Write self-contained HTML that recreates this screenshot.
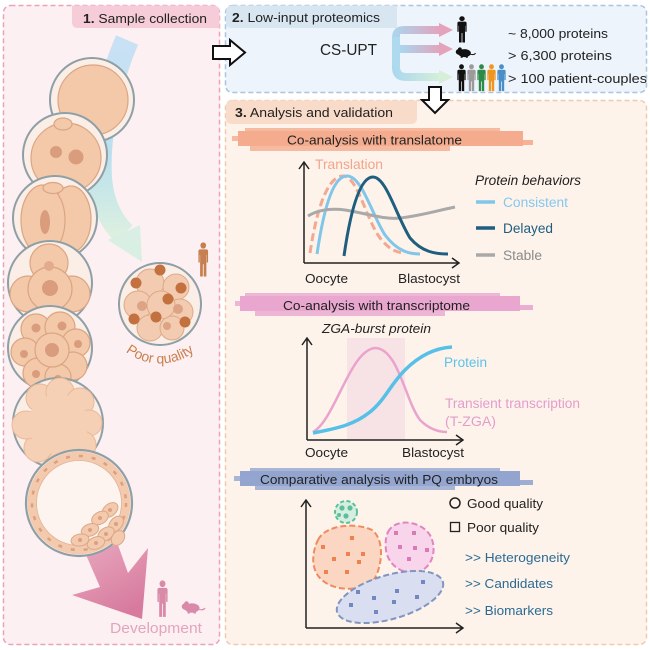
<!DOCTYPE html>
<html><head><meta charset="utf-8"><style>
html,body{margin:0;padding:0;background:#fff;}
svg{display:block;font-family:"Liberation Sans",Arial,sans-serif;}
</style></head><body>
<svg width="650" height="650" viewBox="0 0 650 650" xmlns="http://www.w3.org/2000/svg">
<defs>
<linearGradient id="gBlueArr" x1="0" y1="0" x2="0" y2="1"><stop offset="0" stop-color="#c9e1f4"/><stop offset="0.6" stop-color="#b9e0ee"/><stop offset="1" stop-color="#dcf0e0"/></linearGradient>
<linearGradient id="gPinkArr" x1="0" y1="0" x2="0.6" y2="1"><stop offset="0" stop-color="#e9a9c0"/><stop offset="1" stop-color="#d77a9d"/></linearGradient>
<linearGradient id="gE1" x1="0" y1="0" x2="1" y2="0"><stop offset="0" stop-color="#a9d7ef"/><stop offset="1" stop-color="#e4a2bb"/></linearGradient>
<linearGradient id="gE3" x1="0" y1="0" x2="1" y2="0"><stop offset="0" stop-color="#a9d7ef"/><stop offset="1" stop-color="#d6efd8"/></linearGradient>
<g id="person"><circle cx="5" cy="3" r="2.7"/><path d="M2,6.3 H8 Q9.6,6.3 9.6,8 V17.5 H8.3 V11 H8 V29.5 H5.4 V19 H4.6 V29.5 H2 V11 H1.7 V17.5 H0.4 V8 Q0.4,6.3 2,6.3 Z"/></g>
<g id="mouse"><ellipse cx="10" cy="6" rx="7" ry="4.2"/><ellipse cx="4" cy="4.5" rx="3.8" ry="3"/><circle cx="4.5" cy="1.6" r="1.8"/><path d="M16,7 Q21,9 23,6" fill="none" stroke-width="1.2"/><rect x="6" y="9" width="1.4" height="2"/><rect x="12" y="9" width="1.4" height="2"/></g>
<path id="pqArc" d="M105,318 A56,56 0 0 0 215,318"/>
</defs>

<!-- ===== Panel 1 ===== -->
<rect x="3.5" y="5.5" width="216" height="639" rx="7" fill="#fcf0f3" stroke="#eba3b8" stroke-width="1.5" stroke-dasharray="5,3"/>
<path d="M72,5.5 H213 Q219.5,5.5 219.5,12 V28 H78 Q72,28 72,22 Z" fill="#f6ccd8"/>
<text x="83" y="23" font-size="13" fill="#222" textLength="124" lengthAdjust="spacingAndGlyphs"><tspan font-weight="bold">1.</tspan> Sample collection</text>

<!-- blue arrow -->
<path d="M127,40 C112,75 97,130 100,178 C102,205 112,222 124,234" fill="none" stroke="url(#gBlueArr)" stroke-width="24"/>
<polygon points="108,240 140,225 142,262" fill="#d9efe3"/>

<!-- pink arrow -->
<polygon points="83,548 100,587 72,595 142,619 148,548 128,573 118,545" fill="url(#gPinkArr)"/>

<!-- embryo 1 oocyte -->
<circle cx="92" cy="100" r="42" fill="#fbeee7" stroke="#8f9fa6" stroke-width="2"/>
<circle cx="93" cy="100" r="35" fill="#f3c9a9" stroke="#dba582" stroke-width="1.2"/>

<!-- embryo 2 zygote -->
<circle cx="65" cy="155" r="42" fill="#fbeee7" stroke="#8f9fa6" stroke-width="2"/>
<circle cx="66" cy="158" r="35" fill="#f3c9a9" stroke="#dba582" stroke-width="1.2"/>
<ellipse cx="63" cy="124" rx="9" ry="6" fill="#f3c9a9" stroke="#dba582" stroke-width="1.2"/>
<circle cx="56" cy="152" r="6" fill="#d99d7e"/>
<circle cx="76" cy="157" r="7.5" fill="#d99d7e"/>

<!-- embryo 3 two-cell -->
<circle cx="55" cy="218" r="42" fill="#fbeee7" stroke="#8f9fa6" stroke-width="2"/>
<ellipse cx="71" cy="219" rx="20" ry="33" fill="#f3c9a9" stroke="#dba582" stroke-width="1.2"/>
<ellipse cx="43" cy="220" rx="22" ry="35" fill="#f3c9a9" stroke="#dba582" stroke-width="1.2"/>
<ellipse cx="53" cy="188" rx="10" ry="5.5" fill="#f3c9a9" stroke="#dba582" stroke-width="1.2"/>
<ellipse cx="45" cy="222" rx="5" ry="12" fill="#d99d7e"/>

<!-- embryo 4 four-cell -->
<circle cx="50" cy="283" r="42" fill="#fbeee7" stroke="#8f9fa6" stroke-width="2"/>
<circle cx="49" cy="263" r="19" fill="#f3c9a9" stroke="#dba582" stroke-width="1.2"/>
<circle cx="28" cy="294" r="18" fill="#f3c9a9" stroke="#dba582" stroke-width="1.2"/>
<circle cx="72" cy="294" r="18" fill="#f3c9a9" stroke="#dba582" stroke-width="1.2"/>
<circle cx="50" cy="289" r="22" fill="#f3c9a9" stroke="#dba582" stroke-width="1.2"/>
<circle cx="50" cy="288" r="8" fill="#d99d7e"/>
<circle cx="49" cy="266" r="5" fill="#e2ab8e"/>

<!-- embryo 5 eight-cell -->
<circle cx="50" cy="348" r="42" fill="#fbeee7" stroke="#8f9fa6" stroke-width="2"/>
<g fill="#f3c9a9" stroke="#dba582" stroke-width="1.2">
<circle cx="36" cy="329" r="15"/><circle cx="60" cy="327" r="15"/><circle cx="76" cy="343" r="14"/>
<circle cx="25" cy="352" r="14"/><circle cx="73" cy="366" r="14"/><circle cx="38" cy="373" r="15"/>
<circle cx="58" cy="377" r="13"/><circle cx="52" cy="350" r="17"/>
</g>
<g fill="#d99d7e"><circle cx="36" cy="328" r="4.5"/><circle cx="62" cy="326" r="4.5"/><circle cx="78" cy="344" r="4"/><circle cx="24" cy="354" r="4"/><circle cx="36" cy="374" r="4"/><circle cx="52" cy="350" r="7"/><circle cx="58" cy="379" r="4"/></g>

<!-- embryo 6 morula -->
<circle cx="58" cy="423" r="45" fill="#fbeee7" stroke="#8f9fa6" stroke-width="2"/>
<g fill="#f5d0b4" stroke="#e9b999" stroke-width="1">
<circle cx="40" cy="398" r="14"/><circle cx="60" cy="392" r="14"/><circle cx="80" cy="402" r="14"/>
<circle cx="89" cy="423" r="13"/><circle cx="82" cy="445" r="14"/><circle cx="60" cy="455" r="14"/>
<circle cx="38" cy="448" r="14"/><circle cx="26" cy="425" r="14"/>
</g>
<circle cx="58" cy="424" r="30" fill="#f5d0b4"/>

<!-- embryo 7 blastocyst -->
<circle cx="79" cy="503" r="53" fill="#fdf4ef" stroke="#8f9fa6" stroke-width="2.2"/>
<circle cx="79" cy="503" r="47" fill="none" stroke="#f3caad" stroke-width="9"/>
<circle cx="79" cy="503" r="42.5" fill="none" stroke="#e0b496" stroke-width="0.8"/>
<circle cx="79" cy="503" r="47" fill="none" stroke="#dca080" stroke-width="2.5" stroke-dasharray="4,9"/>
<g fill="#f3caad" stroke="#dca887" stroke-width="1">
<ellipse cx="110" cy="510" rx="9" ry="6" transform="rotate(-40 110 510)"/>
<ellipse cx="100" cy="518" rx="9" ry="6" transform="rotate(-30 100 518)"/>
<ellipse cx="116" cy="524" rx="9" ry="6" transform="rotate(-50 116 524)"/>
<ellipse cx="90" cy="530" rx="9" ry="6" transform="rotate(-20 90 530)"/>
<ellipse cx="106" cy="534" rx="9" ry="6" transform="rotate(-35 106 534)"/>
<ellipse cx="80" cy="540" rx="9" ry="6" transform="rotate(-10 80 540)"/>
<ellipse cx="96" cy="543" rx="9" ry="6" transform="rotate(-20 96 543)"/>
<ellipse cx="118" cy="538" rx="8" ry="6" transform="rotate(-55 118 538)"/>
</g>
<g fill="#dca080"><circle cx="110" cy="510" r="2"/><circle cx="100" cy="518" r="2"/><circle cx="116" cy="524" r="2"/><circle cx="90" cy="530" r="2"/><circle cx="106" cy="534" r="2"/><circle cx="80" cy="540" r="2"/><circle cx="96" cy="543" r="2"/></g>

<!-- PQ embryo -->
<circle cx="160" cy="304" r="41" fill="#fbeee7" stroke="#8f9fa6" stroke-width="2"/>
<g fill="#f3cbb0" stroke="#dcaa8a" stroke-width="1">
<circle cx="150" cy="283" r="14"/><circle cx="176" cy="287" r="13"/><circle cx="138" cy="305" r="14"/>
<circle cx="180" cy="312" r="13"/><circle cx="150" cy="328" r="13"/><circle cx="172" cy="328" r="12"/>
<circle cx="161" cy="305" r="14"/>
</g>
<g fill="#dda385"><circle cx="142" cy="306" r="5"/><circle cx="178" cy="309" r="5"/><circle cx="167" cy="326" r="4"/></g>
<g fill="#c2713f">
<circle cx="160" cy="270" r="5.5"/><circle cx="136" cy="283" r="5.5"/><circle cx="181" cy="288" r="5.5"/>
<circle cx="168" cy="299" r="5.5"/><circle cx="134" cy="319" r="5.5"/><circle cx="156" cy="317" r="5.5"/><circle cx="185" cy="322" r="5.5"/>
</g>
<text font-size="14" fill="#c9804e"><textPath href="#pqArc" startOffset="50%" text-anchor="middle">Poor quality</textPath></text>
<use href="#person" transform="translate(198,242) scale(1.05,1.17)" fill="#c6804f"/>

<!-- development icons -->
<use href="#person" transform="translate(157,580) scale(1.1,1.25)" fill="#d98aa8"/>
<use href="#mouse" transform="translate(182,602) scale(1)" fill="#d98aa8" stroke="#d98aa8"/>
<text x="110" y="633" font-size="15" fill="#e3a4bd" textLength="92" lengthAdjust="spacingAndGlyphs">Development</text>

<!-- ===== Panel 2 ===== -->
<rect x="225.5" y="5.5" width="421" height="87" rx="7" fill="#eef4fb" stroke="#abc5de" stroke-width="1.5" stroke-dasharray="5,3"/>
<path d="M226,12 Q226,5.5 232,5.5 H397 V28 H232 Q226,28 226,22 Z" fill="#d8e6f2"/>
<text x="232" y="22" font-size="13" fill="#222" textLength="148" lengthAdjust="spacingAndGlyphs"><tspan font-weight="bold">2.</tspan> Low-input proteomics</text>
<text x="320" y="55" font-size="16" fill="#222" textLength="57" lengthAdjust="spacingAndGlyphs">CS-UPT</text>

<!-- E arrows -->
<path d="M392,38 Q392,26 404,26 H441 V34 H400 V38 Z" fill="url(#gE1)"/>
<rect x="392" y="37" width="8" height="30" fill="#aed9ef"/>
<rect x="400" y="45" width="41" height="8" fill="url(#gE1)"/>
<path d="M392,66 V67 Q392,81 406,81 H441 V73 H406 Q400,73 400,67 V66 Z" fill="url(#gE3)"/>
<polygon points="439,23 453,30 439,37" fill="#e4a2bb"/>
<polygon points="439,42 453,49 439,56" fill="#e4a2bb"/>
<polygon points="439,70 453,77 439,84" fill="#d6efd8"/>

<use href="#person" transform="translate(457,16) scale(1,0.9)" fill="#111"/>
<use href="#mouse" transform="translate(456,48) scale(0.85)" fill="#111" stroke="#111"/>
<use href="#person" transform="translate(457,64) scale(0.9,0.92)" fill="#111"/>
<use href="#person" transform="translate(467,64) scale(0.9,0.92)" fill="#9b9b9b"/>
<use href="#person" transform="translate(477,64) scale(0.9,0.92)" fill="#2e8b47"/>
<use href="#person" transform="translate(487,64) scale(0.9,0.92)" fill="#f0961e"/>
<use href="#person" transform="translate(497,64) scale(0.9,0.92)" fill="#4a8fc8"/>

<text x="508" y="38" font-size="13" fill="#222" textLength="100" lengthAdjust="spacingAndGlyphs">~ 8,000 proteins</text>
<text x="508" y="60" font-size="13" fill="#222" textLength="104" lengthAdjust="spacingAndGlyphs">&gt; 6,300 proteins</text>
<text x="508" y="83" font-size="13" fill="#222" textLength="139" lengthAdjust="spacingAndGlyphs">&gt; 100 patient-couples</text>

<!-- ===== Panel 3 ===== -->
<rect x="225.5" y="100.5" width="421" height="544" rx="7" fill="#fdf3eb" stroke="#f2cab2" stroke-width="1.5" stroke-dasharray="5,3"/>
<path d="M226,107 Q226,100.5 232,100.5 H417 V118 Q417,124 411,124 H232 Q226,124 226,118 Z" fill="#f9dbc9"/>
<text x="235" y="117" font-size="13" fill="#222" textLength="158" lengthAdjust="spacingAndGlyphs"><tspan font-weight="bold">3.</tspan> Analysis and validation</text>

<!-- arrows between panels -->
<path d="M213,46 H230 V40 L245,52.5 L230,65 V59 H213 Z" fill="#fff" stroke="#111" stroke-width="2" stroke-linejoin="miter"/>
<path d="M429,87 H441 V100 H448 L435,113 L422,100 H429 Z" fill="#fff" stroke="#111" stroke-width="2" stroke-linejoin="miter"/>

<!-- band 1 salmon -->
<g fill="#f4ab8e">
<rect x="245" y="128" width="255" height="5" opacity="0.8"/>
<rect x="238" y="131" width="285" height="15"/>
<rect x="232" y="136" width="20" height="5" opacity="0.8"/>
<rect x="300" y="140" width="233" height="5" opacity="0.9"/>
<rect x="250" y="146" width="200" height="5" opacity="0.8"/>
</g>
<text x="287" y="144.5" font-size="13" fill="#222" textLength="175" lengthAdjust="spacingAndGlyphs">Co-analysis with translatome</text>

<!-- chart 1 -->
<g fill="none" stroke="#222" stroke-width="1.5">
<path d="M304,263 V163 M299,169 L304,162 L309,169"/>
<path d="M304,263 H458 M452,258 L459,263 L452,268"/>
</g>
<text x="315" y="169" font-size="14" fill="#f2a58a" textLength="68" lengthAdjust="spacingAndGlyphs">Translation</text>
<path d="M310,253 C318,200 330,176 343,176 C357,176 365,215 378,235 C388,250 398,253 405,253" fill="none" stroke="#f2a98f" stroke-width="3" stroke-dasharray="8,4"/>
<path d="M317,254 C325,200 335,176 347,176 C362,176 372,215 385,235 C398,252 410,254 420,254" fill="none" stroke="#80c6ea" stroke-width="3"/>
<path d="M308,216 C318,210 330,208 345,210 C365,213 385,220 400,218 C420,216 440,210 455,207" fill="none" stroke="#a9a9a9" stroke-width="3"/>
<path d="M344,256 C352,200 362,177 373,177 C386,177 396,215 410,238 C422,252 435,254 448,254" fill="none" stroke="#1f5e7e" stroke-width="3"/>
<text x="305" y="283" font-size="13" fill="#222" textLength="43" lengthAdjust="spacingAndGlyphs">Oocyte</text>
<text x="398" y="283" font-size="13" fill="#222" textLength="62" lengthAdjust="spacingAndGlyphs">Blastocyst</text>
<text x="475" y="185" font-size="13.5" font-style="italic" fill="#222" textLength="106" lengthAdjust="spacingAndGlyphs">Protein behaviors</text>
<line x1="476" y1="202" x2="495" y2="202" stroke="#80c6ea" stroke-width="3.5"/>
<line x1="476" y1="228" x2="495" y2="228" stroke="#1f5e7e" stroke-width="3.5"/>
<line x1="476" y1="255" x2="495" y2="255" stroke="#a9a9a9" stroke-width="3.5"/>
<text x="503" y="207" font-size="13.5" fill="#85c8ec" textLength="65" lengthAdjust="spacingAndGlyphs">Consistent</text>
<text x="503" y="233" font-size="13.5" fill="#1f5e7e" textLength="50" lengthAdjust="spacingAndGlyphs">Delayed</text>
<text x="503" y="260" font-size="13.5" fill="#8a8a8a" textLength="39" lengthAdjust="spacingAndGlyphs">Stable</text>

<!-- band 2 pink -->
<g fill="#e9a6cf">
<rect x="245" y="293" width="255" height="5" opacity="0.8"/>
<rect x="240" y="296" width="280" height="15"/>
<rect x="235" y="301" width="15" height="5" opacity="0.8"/>
<rect x="300" y="305" width="233" height="5" opacity="0.9"/>
<rect x="255" y="311" width="190" height="5" opacity="0.8"/>
</g>
<text x="283" y="310" font-size="13" fill="#222" textLength="187" lengthAdjust="spacingAndGlyphs">Co-analysis with transcriptome</text>

<!-- chart 2 -->
<rect x="347" y="338" width="58" height="102" fill="#f7e3e5"/>
<g fill="none" stroke="#222" stroke-width="1.5">
<path d="M307,440 V339 M302,345 L307,338 L312,345"/>
<path d="M307,440 H462 M456,435 L463,440 L456,445"/>
</g>
<path d="M313,432 C335,420 350,350 375,348 C398,348 405,400 420,420 C430,430 440,432 447,432" fill="none" stroke="#eaa3cd" stroke-width="2.5"/>
<path d="M313,433 C340,428 355,424 370,412 C385,400 390,385 405,370 C420,355 435,348 452,347" fill="none" stroke="#56c0e8" stroke-width="3.5"/>
<text x="322" y="333" font-size="13" font-style="italic" fill="#222" textLength="109" lengthAdjust="spacingAndGlyphs">ZGA-burst protein</text>
<text x="444" y="367" font-size="13.5" fill="#5cc2ea" textLength="43" lengthAdjust="spacingAndGlyphs">Protein</text>
<text x="445" y="408" font-size="13.5" fill="#e39dcc" textLength="135" lengthAdjust="spacingAndGlyphs">Transient transcription</text>
<text x="445" y="426" font-size="13.5" fill="#e39dcc" textLength="51" lengthAdjust="spacingAndGlyphs">(T-ZGA)</text>
<text x="305" y="457" font-size="13" fill="#222" textLength="43" lengthAdjust="spacingAndGlyphs">Oocyte</text>
<text x="402" y="457" font-size="13" fill="#222" textLength="62" lengthAdjust="spacingAndGlyphs">Blastocyst</text>

<!-- band 3 blue -->
<g fill="#93a5cf">
<rect x="250" y="468" width="250" height="5" opacity="0.8"/>
<rect x="240" y="471" width="280" height="15"/>
<rect x="234" y="476" width="20" height="5" opacity="0.8"/>
<rect x="300" y="480" width="233" height="5" opacity="0.9"/>
<rect x="255" y="485" width="200" height="5" opacity="0.8"/>
</g>
<text x="260" y="484" font-size="13" fill="#222" textLength="238" lengthAdjust="spacingAndGlyphs">Comparative analysis with PQ embryos</text>

<!-- chart 3 -->
<g fill="none" stroke="#222" stroke-width="1.5">
<path d="M306,628 V501 M301,507 L306,500 L311,507"/>
<path d="M306,628 H462 M456,623 L463,628 L456,633"/>
</g>
<circle cx="346" cy="512" r="11" fill="#d5eee1" stroke="#5dbf9a" stroke-width="2" stroke-dasharray="4,2.5"/>
<g fill="#5dbf9a"><circle cx="342" cy="508" r="2.6"/><circle cx="350" cy="508" r="2.6"/><circle cx="346" cy="516" r="2.6"/><circle cx="339" cy="515" r="2"/></g>
<path d="M318,540 C325,525 355,522 372,530 C385,540 382,565 375,578 C365,592 335,592 322,580 C310,570 312,552 318,540 Z" fill="#fbd7c3" stroke="#ef8b5c" stroke-width="2" stroke-dasharray="6,3"/>
<path d="M388,532 C395,518 420,520 430,535 C438,550 432,568 418,572 C402,575 388,565 386,550 C385,542 386,536 388,532 Z" fill="#f8d5ea" stroke="#e284c2" stroke-width="2" stroke-dasharray="6,3"/>
<ellipse cx="390" cy="597" rx="55" ry="22" transform="rotate(-16 390 597)" fill="#d9dff0" stroke="#8195c1" stroke-width="2" stroke-dasharray="6,3"/>
<g fill="#ef8050">
<rect x="350" y="536" width="4" height="4"/><rect x="321" y="545" width="4" height="4"/><rect x="346" y="552" width="4" height="4"/><rect x="361" y="552" width="4" height="4"/>
<rect x="332" y="557" width="4" height="4"/><rect x="357" y="560" width="4" height="4"/><rect x="324" y="570" width="4" height="4"/><rect x="345" y="570" width="4" height="4"/>
</g>
<g fill="#d87ab8">
<rect x="394" y="531" width="4" height="4"/><rect x="412" y="531" width="4" height="4"/><rect x="398" y="545" width="4" height="4"/><rect x="413" y="546" width="4" height="4"/>
<rect x="425" y="548" width="4" height="4"/><rect x="407" y="557" width="4" height="4"/>
</g>
<g fill="#7388c0">
<rect x="421" y="580" width="4" height="4"/><rect x="356" y="590" width="4" height="4"/><rect x="395" y="589" width="4" height="4"/><rect x="372" y="596" width="4" height="4"/>
<rect x="415" y="595" width="4" height="4"/><rect x="392" y="600" width="4" height="4"/><rect x="349" y="603" width="4" height="4"/><rect x="374" y="610" width="4" height="4"/>
</g>
<circle cx="455" cy="503" r="5" fill="none" stroke="#222" stroke-width="1.5"/>
<text x="467" y="508" font-size="13" fill="#222" textLength="76" lengthAdjust="spacingAndGlyphs">Good quality</text>
<rect x="450.5" y="522.5" width="9" height="9" fill="none" stroke="#222" stroke-width="1.3"/>
<text x="467" y="532" font-size="13" fill="#222" textLength="72" lengthAdjust="spacingAndGlyphs">Poor quality</text>
<text x="465" y="562" font-size="13" fill="#2b6b93" textLength="105" lengthAdjust="spacingAndGlyphs">&gt;&gt; Heterogeneity</text>
<text x="465" y="588" font-size="13" fill="#2b6b93" textLength="88" lengthAdjust="spacingAndGlyphs">&gt;&gt; Candidates</text>
<text x="465" y="615" font-size="13" fill="#2b6b93" textLength="88" lengthAdjust="spacingAndGlyphs">&gt;&gt; Biomarkers</text>
</svg>
</body></html>
